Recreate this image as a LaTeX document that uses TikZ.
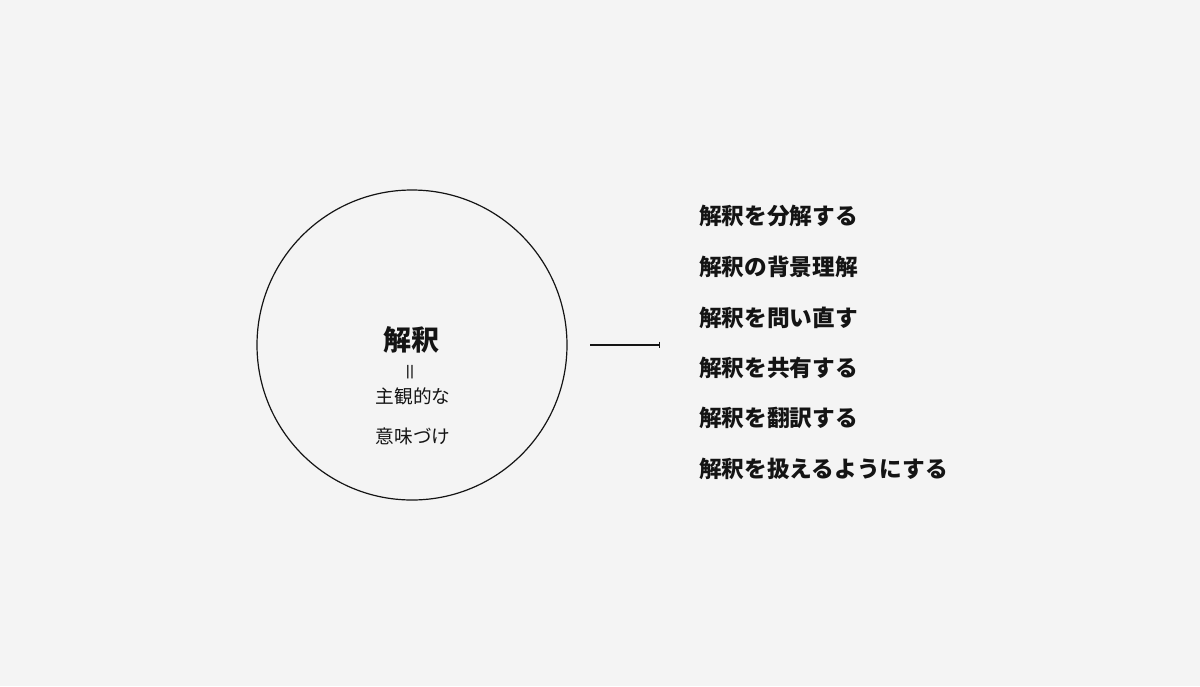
\documentclass[tikz,border=0pt]{standalone}
\usepackage{fontspec}
\setmainfont{Noto Sans CJK JP}
\newfontfamily\cjkb[BoldFont={Noto Sans CJK JP Bold}]{Noto Sans CJK JP}
\usetikzlibrary{arrows.meta}
\definecolor{bg}{RGB}{244,244,244}
\definecolor{ink}{RGB}{20,20,20}
\begin{document}
\begin{tikzpicture}[x=0.75pt,y=-0.75pt,
  listitem/.style={anchor=west,inner sep=0pt,text=ink,font=\fontsize{17pt}{20pt}\selectfont\bfseries},
  sub/.style={inner sep=0pt,text=ink,font=\fontsize{14pt}{17pt}\selectfont},
  conn/.style={draw=ink,line width=0.9pt,-{Bar[width=5pt,line width=0.9pt]}}]
\fill[bg] (0,0) rectangle (1200,686);
\useasboundingbox (0,0) rectangle (1200,686);
\node[draw=ink,line width=0.9pt,circle,minimum size=232.5pt,inner sep=0pt] (circ) at (412,345) {};
\node[inner sep=0pt,text=ink,font=\fontsize{21pt}{24pt}\selectfont\bfseries] (title) at (411,340) {解釈};
\node[inner sep=0pt,text=ink,rotate=90,font=\fontsize{14pt}{17pt}\selectfont] (eq) at (413,372) {＝};
\node[sub] (s1) at (413,396) {主観的な};
\node[sub] (s2) at (413,436) {意味づけ};
\coordinate (ls) at (590,345);
\coordinate (le) at (660,345);
\draw[conn] (ls) -- (le);
\node[listitem] (l1) at (699,216) {解釈を分解する};
\node[listitem] (l2) at (699,267) {解釈の背景理解};
\node[listitem] (l3) at (699,318) {解釈を問い直す};
\node[listitem] (l4) at (699,368) {解釈を共有する};
\node[listitem] (l5) at (699,418) {解釈を翻訳する};
\node[listitem] (l6) at (699,469) {解釈を扱えるようにする};
\end{tikzpicture}
\end{document}
